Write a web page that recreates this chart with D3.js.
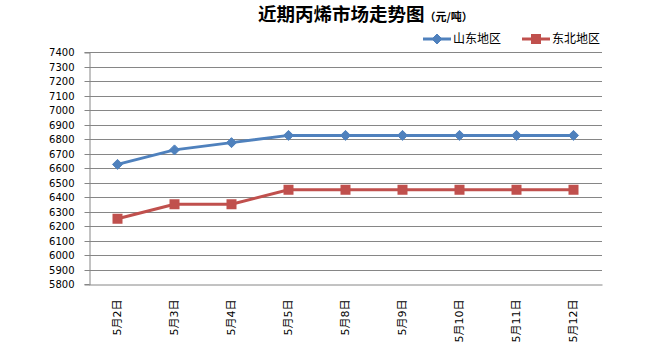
<!DOCTYPE html>
<html>
<head>
<meta charset="utf-8">
<script src="https://cdn.jsdelivr.net/npm/d3@7"></script>
<style>
  html, body { margin: 0; padding: 0; background: #fff; }
  svg { display: block; }
</style>
</head>
<body>
<svg id="chart" width="650" height="347"></svg>
<script>
// Categories: trading days in May
const dates = ["5月2日", "5月3日", "5月4日", "5月5日", "5月8日", "5月9日", "5月10日", "5月11日", "5月12日"];
// Propylene prices (元/吨)
const shandong = [6625, 6725, 6775, 6825, 6825, 6825, 6825, 6825, 6825];
const dongbei  = [6250, 6350, 6350, 6450, 6450, 6450, 6450, 6450, 6450];
const seriesNames = ["山东地区", "东北地区"];
const yTicks = d3.range(5800, 7401, 100);

const svg = d3.select("#chart");
const margin = { left: 89, right: 48, top: 52, bottom: 63 };
const W = 650, H = 347;

const x = d3.scaleBand().domain(dates).range([margin.left, W - margin.right]).padding(0);
const y = d3.scaleLinear().domain([5800, 7400]).range([H - margin.bottom, margin.top]);

const gridColor = "#868686";
const colors = ["#4F81BD", "#C0504D"];

// horizontal gridlines
svg.append("g")
  .selectAll("line")
  .data(yTicks.slice(1))
  .join("line")
  .attr("x1", margin.left).attr("x2", W - margin.right)
  .attr("y1", d => Math.round(y(d)) + 0.5).attr("y2", d => Math.round(y(d)) + 0.5)
  .attr("stroke", gridColor).attr("stroke-width", 1);

// y axis
const yAxis = svg.append("g")
  .attr("transform", `translate(${margin.left + 0.5},0.5)`)
  .call(d3.axisLeft(y).tickValues(yTicks).tickSize(5).tickPadding(10).tickFormat(d3.format("d")));
yAxis.select(".domain").attr("stroke", gridColor);
yAxis.selectAll(".tick line").attr("stroke", gridColor);
yAxis.selectAll("text")
  .attr("fill", "#000")
  .style("font-family", "'DejaVu Sans', sans-serif")
  .style("font-size", "10px");
yAxis.selectAll(".tick").attr("transform", d => `translate(0,${Math.round(y(d))})`);

// x axis
const xAxis = svg.append("g")
  .attr("transform", `translate(0,${Math.round(y(5800)) + 0.5})`)
  .call(d3.axisBottom(x).tickSize(0).tickPadding(0));
xAxis.select(".domain").attr("stroke", gridColor);
xAxis.selectAll("text")
  .attr("fill", "#000")
  .style("font-family", "'DejaVu Sans', 'Noto Sans CJK SC', sans-serif")
  .style("font-size", "11px")
  .attr("text-anchor", "end")
  .attr("dy", "0.35em")
  .attr("transform", "translate(0,15) rotate(-90)");

// series
const line = d3.line().x((d, i) => x(dates[i]) + x.bandwidth() / 2).y(d => y(d));
const data = [shandong, dongbei];

data.forEach((vals, si) => {
  svg.append("path")
    .datum(vals)
    .attr("d", line)
    .attr("fill", "none")
    .attr("stroke", colors[si])
    .attr("stroke-width", 3)
    .attr("stroke-linejoin", "round");
});

function marker(g, si, cx, cy) {
  if (si === 0) {
    g.append("path")
      .attr("d", `M${cx},${cy - 5}L${cx + 5},${cy}L${cx},${cy + 5}L${cx - 5},${cy}Z`)
      .attr("fill", colors[0]).attr("stroke", colors[0]).attr("stroke-width", 1);
  } else {
    g.append("rect")
      .attr("x", cx - 5).attr("y", cy - 5).attr("width", 10).attr("height", 10)
      .attr("fill", colors[1]);
  }
}

data.forEach((vals, si) => {
  const g = svg.append("g");
  vals.forEach((v, i) => marker(g, si, x(dates[i]) + x.bandwidth() / 2, y(v)));
});

// legend
const legendItems = [{ x0: 423, tx: 453 }, { x0: 522, tx: 552 }];
legendItems.forEach((it, si) => {
  const g = svg.append("g");
  g.append("line")
    .attr("x1", it.x0).attr("x2", it.x0 + 28)
    .attr("y1", 39).attr("y2", 39)
    .attr("stroke", colors[si]).attr("stroke-width", 3);
  marker(g, si, it.x0 + 14, 39);
  g.append("text")
    .attr("x", it.tx).attr("y", 39)
    .attr("dy", "0.36em")
    .style("font-family", "'Noto Sans CJK SC', sans-serif")
    .style("font-size", "12px")
    .attr("fill", "#000")
    .text(seriesNames[si]);
});

// title
const title = svg.append("text")
  .attr("x", 258).attr("y", 21)
  .style("font-family", "'Noto Sans CJK SC', sans-serif")
  .style("font-weight", "bold")
  .attr("fill", "#000");
title.append("tspan").style("font-size", "18.5px").text("近期丙烯市场走势图");
title.append("tspan").style("font-size", "11px").text("（元/吨）");
</script>
</body>
</html>
